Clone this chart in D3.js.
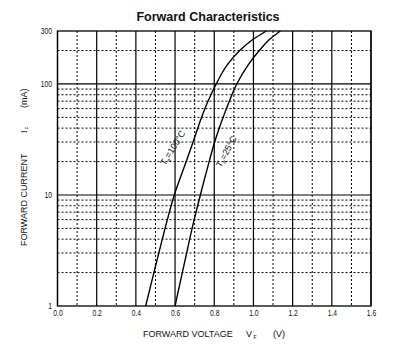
<!DOCTYPE html>
<html>
<head>
<meta charset="utf-8">
<script src="https://cdn.jsdelivr.net/npm/d3@7/dist/d3.min.js"></script>
<style>
  html, body { margin: 0; padding: 0; background: #fff; }
  svg { display: block; }
  text { font-family: "Liberation Sans", Arial, sans-serif; fill: #111; }
</style>
</head>
<body>
<svg id="chart" width="414" height="357"></svg>
<script>
// ---- data ----
const xMajorTicks = [0.0, 0.2, 0.4, 0.6, 0.8, 1.0, 1.2, 1.4, 1.6];
const xMinorTicks = [0.1, 0.3, 0.5, 0.7, 0.9, 1.1, 1.3, 1.5];
const yTickLabels = [1, 10, 100, 300];
const yMajorGrid = [10, 100];
const yMinorGrid = [2, 3, 4, 5, 6, 7, 8, 9, 20, 30, 40, 50, 60, 70, 80, 90, 200];

// forward current (mA) and voltage (V)
const currentMA   = [1, 2, 3, 5, 10, 20, 30, 50, 70, 100, 150, 200, 250, 300];
const voltage100C = [0.45, 0.492, 0.517, 0.549, 0.596, 0.657, 0.692, 0.735, 0.768, 0.81, 0.868, 0.93, 0.995, 1.066];
const voltage25C  = [0.60, 0.637, 0.659, 0.687, 0.729, 0.774, 0.802, 0.845, 0.877, 0.915, 0.975, 1.03, 1.08, 1.137];

const title = "Forward Characteristics";

// ---- layout ----
const svg = d3.select("#chart");
const pL = 57.5, pR = 371, pT = 31, pB = 306;
const x = d3.scaleLinear().domain([0, 1.6]).range([pL, pR]);
const y = d3.scaleLog().domain([1, 300]).range([pB, pT]);

// minor grid
const g = svg.append("g");
g.selectAll("line.xminor").data(xMinorTicks).join("line")
  .attr("x1", d => x(d)).attr("x2", d => x(d))
  .attr("y1", pT).attr("y2", pB)
  .attr("stroke", "#000").attr("stroke-width", 1).attr("stroke-dasharray", "2,2");
g.selectAll("line.yminor").data(yMinorGrid).join("line")
  .attr("x1", pL).attr("x2", pR)
  .attr("y1", d => y(d)).attr("y2", d => y(d))
  .attr("stroke", "#000").attr("stroke-width", 1).attr("stroke-dasharray", "2,2");

// major grid
g.selectAll("line.xmajor").data(xMajorTicks).join("line")
  .attr("x1", d => x(d)).attr("x2", d => x(d))
  .attr("y1", pT).attr("y2", pB)
  .attr("stroke", "#000").attr("stroke-width", 1.2);
g.selectAll("line.ymajor").data(yMajorGrid).join("line")
  .attr("x1", pL).attr("x2", pR)
  .attr("y1", d => y(d)).attr("y2", d => y(d))
  .attr("stroke", "#000").attr("stroke-width", 1.2);

// frame
svg.append("rect").attr("x", pL).attr("y", pT)
  .attr("width", pR - pL).attr("height", pB - pT)
  .attr("fill", "none").attr("stroke", "#000").attr("stroke-width", 1.3);

// axes (labels only)
const xAxis = svg.append("g").attr("transform", `translate(0,${pB})`)
  .call(d3.axisBottom(x).tickValues(xMajorTicks).tickFormat(d3.format(".1f")).tickSize(0).tickPadding(4));
const yAxis = svg.append("g").attr("transform", `translate(${pL},0)`)
  .call(d3.axisLeft(y).tickValues(yTickLabels).tickFormat(d3.format("d")).tickSize(0).tickPadding(7));
[xAxis, yAxis].forEach(a => {
  a.select(".domain").remove();
  a.selectAll("text").attr("font-size", 8.4).attr("fill", "#111")
    .attr("font-family", "'Liberation Sans', Arial, sans-serif");
});
xAxis.selectAll("text").attr("transform", "scale(0.8,1)");
yAxis.selectAll("text").attr("transform", "scale(0.8,1)");

// curves (points ordered top to bottom for a monotone-in-y spline)
const line = d3.line().curve(d3.curveMonotoneY);
const series = [voltage100C, voltage25C];
svg.append("g").selectAll("path").data(series).join("path")
  .attr("d", vs => line(vs.map((v, i) => [x(v), y(currentMA[i])]).reverse()))
  .attr("fill", "none").attr("stroke", "#000").attr("stroke-width", 1.4);

// curve labels
function tLabel(tx, ty, ang, rest) {
  const t = svg.append("text").attr("transform", `translate(${tx},${ty}) rotate(${ang})`)
    .attr("font-size", 9).attr("fill", "#333");
  t.append("tspan").text("T");
  t.append("tspan").attr("font-size", 5.5).attr("dy", 2).text("a");
  t.append("tspan").attr("dy", -2).text(rest);
}
tLabel(165, 166, -58, "=100\u00B0C");
tLabel(221, 168, -62, "=25\u00B0C");

// title
svg.append("text").attr("x", 208).attr("y", 21).attr("text-anchor", "middle")
  .attr("font-size", 12.5).attr("font-weight", "bold").attr("fill", "#111").text(title);

// x axis title
const xtg = svg.append("g").attr("fill", "#111");
xtg.append("text").attr("x", 143).attr("y", 337).attr("font-size", 9).text("FORWARD VOLTAGE");
xtg.append("text").attr("x", 246).attr("y", 337).attr("font-size", 9).text("V");
xtg.append("text").attr("x", 253.5).attr("y", 339).attr("font-size", 5).text("F");
xtg.append("text").attr("x", 273).attr("y", 337).attr("font-size", 9).text("(V)");

// y axis title
const ytg = svg.append("g").attr("transform", "translate(27,0) rotate(-90)");
ytg.append("text").attr("x", -246).attr("y", 0).attr("font-size", 9).text("FORWARD CURRENT");
ytg.append("text").attr("x", -133).attr("y", 0).attr("font-size", 9).text("I");
ytg.append("text").attr("x", -129.5).attr("y", 2).attr("font-size", 5).text("F");
ytg.append("text").attr("x", -108).attr("y", 0).attr("font-size", 9).text("(mA)");
</script>
</body>
</html>
